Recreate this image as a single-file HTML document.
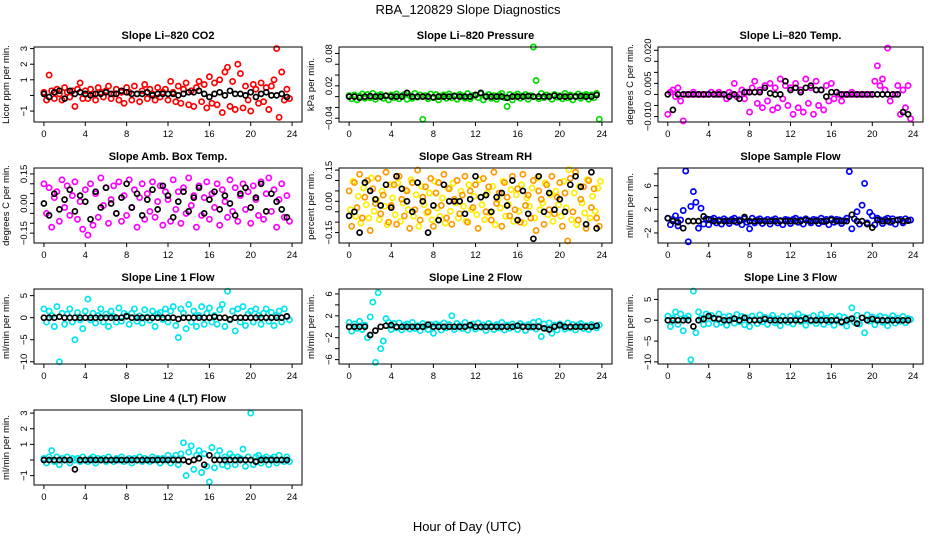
<!DOCTYPE html>
<html><head><meta charset="utf-8"><style>
body{margin:0;background:#fff;}
svg{display:block;font-family:"Liberation Sans",sans-serif;}
</style></head><body>
<svg id="chart" width="936" height="540" viewBox="0 0 936 540" xmlns="http://www.w3.org/2000/svg">
<rect width="936" height="540" fill="#fff"/>
<text x="468" y="14" text-anchor="middle" font-size="13">RBA_120829  Slope Diagnostics</text>
<text x="467" y="531" text-anchor="middle" font-size="13">Hour of Day (UTC)</text>
</svg>
<script>
const co2C=[0.2,-0.3,1.3,0.3,-0.2,0.4,0.1,-0.3,0.5,0.2,-0.1,0.3,-0.7,0.4,0.8,-0.2,0.3,-0.2,0.4,0.1,-0.3,0.5,0.2,-0.1,0.3,0.6,-0.2,0.1,0.4,-0.3,0.2,-0.5,0.5,0.2,-0.3,0.6,0.1,-0.4,0.3,0.7,-0.2,0.4,0.1,-0.3,0.5,-0.1,0.2,0.4,-0.3,0.9,0.2,-0.4,0.6,-0.5,0.4,0.8,-0.6,0.3,-0.7,0.5,0.9,-0.4,0.7,-0.8,1.2,-0.5,0.8,-0.6,1.0,-1.1,1.5,1.8,-0.7,0.9,-0.9,2.0,1.4,-0.8,0.6,-0.3,-1.0,0.7,0.4,-0.5,0.8,-0.4,0.5,-0.9,0.6,1.0,3.0,-1.4,1.5,-0.3,0.4,-0.2];
const co2K=[0.1,-0.1,0.2,0.3,-0.2,0.3,0.1,0.2,0.1,0,0.1,0.1,0.2,0.1,0.1,0.3,0.2,0.1,0.1,0.1,0.2,0,0.1,0.1,0.1,0.1,0,0.1,0.2,0.2,0.3,0.1,-0.1,0.1,0.2,0,0.3,0.1,0.1,0,0.2,-0.1,0.1,0.2,0,0,0.1,-0.1];
const presC=[0.002,-0.004,0.003,-0.006,0.001,0.005,-0.003,0.004,-0.002,0.006,-0.005,0.002,0.004,-0.003,0.001,-0.006,0.003,-0.002,0.005,-0.004,0.001,0.004,-0.005,0.002,-0.003,0.006,-0.001,0.003,-0.042,0.002,-0.004,0.005,-0.002,0.004,-0.006,0.001,0.003,-0.003,0.005,-0.002,0.002,-0.005,0.004,0.001,-0.003,0.006,-0.004,0.002,0.003,-0.002,0.005,-0.006,0.001,0.004,-0.003,0.002,-0.005,0.003,0.006,-0.002,-0.018,0.004,-0.006,0.002,0.005,-0.003,0.001,0.004,-0.005,0.002,0.092,0.030,-0.004,0.006,-0.002,0.003,0.001,-0.005,0.004,-0.001,0.002,-0.004,0.006,-0.002,0.003,-0.006,0.001,0.005,-0.003,0.002,0.004,-0.005,0.003,-0.002,0.006,-0.042];
const presK=[0,0,-0.002,0,0.001,0,0,0.002,0,0,0,0.007,0,0,0,0,-0.001,0,0,0,0.001,0,0,0,0.003,0.007,0,0,0,0,-0.002,0,0,0,0.001,0,0,0,0,0.002,0,0,0,0,0.001,0,0,0.003];
const tempC=[-0.009,0.001,0.002,-0.001,0.003,-0.003,-0.012,0,0,0,0.001,0,0,0,0,0,0,0.001,0,0,0.001,0,0,-0.002,0.001,0,0.005,-0.001,0,0.002,-0.002,0.001,-0.008,0.003,0.006,-0.004,0.002,-0.006,0.004,-0.003,0.005,-0.007,0.003,-0.006,0.007,-0.002,0.004,-0.005,0.003,-0.009,0.005,-0.006,0.002,-0.008,0.007,-0.004,0.003,-0.009,0.006,-0.005,0.002,-0.007,0.004,-0.003,0.005,-0.002,0.001,0,-0.003,0,0,0,0.001,0,0,0,0,0,0,0,0,0.006,0.013,0.004,0.007,0.002,0.021,-0.003,0,0,0.004,-0.009,0.002,-0.006,0.004,-0.011];
const tempK=[0,-0.007,0,0,0,0,0,0,0,0,0,0,-0.001,0,-0.002,0.001,0.001,0.001,0.001,0.003,0.0005,0,0,0.006,0.002,0.003,0.001,0.003,0.004,0.002,0.002,-0.001,0.001,0.001,0,0,0,0,0,0,0,0,0,0,0,0,-0.008,-0.009];
const ambC=[0.10,-0.05,0.08,-0.12,0.03,0.06,-0.09,0.12,-0.02,0.09,-0.06,0.04,0.11,-0.08,0.01,-0.13,0.07,-0.16,0.10,-0.11,0.05,-0.07,0.13,-0.01,0.08,-0.10,0.02,0.09,-0.05,0.11,-0.09,0.04,-0.06,0.12,-0.02,0.07,-0.12,0.03,0.10,-0.08,0.05,-0.04,0.11,-0.07,0.01,0.09,-0.11,0.06,0.02,-0.09,0.12,-0.03,0.06,-0.10,0.08,-0.05,0.13,-0.01,0.04,-0.12,0.09,-0.06,0.03,0.11,-0.08,0.05,-0.02,0.10,-0.11,0.07,0.01,-0.07,0.12,-0.04,0.08,-0.09,0.04,0.10,-0.03,0.06,-0.10,0.09,0.02,-0.06,0.11,-0.08,0.05,0.13,-0.04,0.07,-0.12,0.02,0.10,-0.07,0.04,-0.09];
const ambK=[0.00,-0.06,0.05,-0.03,0.02,0.07,-0.04,0.04,0.01,-0.08,0.06,-0.02,0.08,0.00,-0.05,0.03,0.10,-0.02,0.05,-0.06,0.02,0.07,-0.03,0.09,0.04,-0.07,0.01,0.06,-0.04,0.03,0.08,-0.05,0.02,0.06,-0.03,0.04,0.00,-0.06,0.05,0.08,-0.02,0.03,0.10,-0.04,0.05,0.01,-0.03,-0.07];
const rhC=[0.05,-0.12,0.09,-0.03,0.13,-0.08,0.02,0.10,-0.14,0.06,-0.01,0.11,-0.06,0.03,0.14,-0.10,-0.02,0.08,-0.11,0.12,0.01,-0.07,0.05,-0.13,0.09,-0.04,0.15,-0.09,0.02,0.07,-0.05,0.11,-0.12,0.04,0.09,-0.02,0.13,-0.08,0.06,-0.11,0.01,0.10,-0.06,0.03,0.12,-0.10,0.05,-0.03,0.08,-0.13,0.02,0.11,-0.05,0.07,-0.09,0.14,-0.01,0.04,-0.12,0.09,0.02,-0.07,0.12,-0.04,0.06,-0.10,0.13,-0.02,0.03,-0.08,0.10,-0.14,0.05,0.01,-0.11,0.08,-0.04,0.12,-0.06,0.02,0.09,-0.12,0.04,-0.19,0.11,-0.05,0.14,-0.09,0.01,0.07,-0.13,0.10,-0.03,0.06,-0.08,-0.12];
const rhK=[-0.07,-0.05,-0.15,0.09,0.05,0.01,-0.02,0.08,-0.03,0.12,0.06,0.00,-0.05,0.09,0.00,-0.15,-0.02,-0.09,0.08,0.00,0.00,0.00,-0.06,0.01,0.12,0.02,0.03,-0.05,0.02,0.04,-0.02,0.10,-0.09,0.05,-0.06,-0.18,0.12,-0.05,0.04,-0.04,0.01,-0.05,0.08,0.12,0.07,-0.11,0.14,-0.13];
const flowC=[0.5,-0.6,0.3,0.9,-0.8,0.2,1.8,8.5,-3.5,2.5,5.0,3.2,-1.2,2.2,-0.5,0.4,-0.6,0.3,0.5,-0.3,0.2,-0.5,0.4,0.1,-0.4,0.3,0.5,-0.2,0.2,-0.6,0.4,-0.2,-1.3,0.5,-0.3,0.2,0.4,-0.4,0.1,0.3,-0.5,0.2,0.4,-0.3,0.1,-0.6,0.3,0.2,-0.4,0.3,0.5,-0.2,0.2,-0.5,0.4,0.1,-0.3,0.3,0.2,-0.4,0.5,-0.1,0.3,-0.6,0.4,-0.2,0.3,0.2,-0.4,0.1,0.5,8.4,-1.3,0.4,1.6,-0.5,2.7,6.4,-0.3,1.5,0.9,-0.6,0.5,0.2,-0.4,0.3,0.5,-0.2,0.4,-0.5,0.2,0.3,-0.3,0.4,0.1,0.2];
const flowK=[0.5,0,-0.2,-1.2,0,0,0,0.8,0.3,0,0,0,0,0,0,0.7,0,0,0,0,0,0,0,0,0,0,0,0.2,0,0,0,0,0.2,0,0,0,1.1,0,0,-0.5,-1.1,0.2,0,0,0,0.2,0,0.1];
const l1C=[2,-1,1.5,0.5,-2,2.5,-10,1,-1.5,0.8,2,-1,-5,1.2,-0.5,-2.5,1.5,4.2,-0.5,1,-1.2,0.5,2,-1,0.8,-2,1.5,0.3,-1,2.2,-0.8,1,0.5,-1.5,1,2,-0.8,0.4,-1.2,1.8,0.2,-0.6,1.5,-2,0.8,1.2,-0.4,2,-1,1.5,2.5,-1.8,-4.5,2,1,-2.5,3,-1,1.5,-2,0.5,2.5,-1.5,1,2.2,-1,0.5,-1.5,1.8,3,-2,6,-0.5,1.5,-3,2,-1,2.5,-1.8,0.8,1.5,-1,2,0.5,-1.5,1,2,-0.8,1.2,-1.8,0.5,1.5,-1,2,0.3,-0.5];
const l1K=[0,0,0,0.2,0,0,0,0,0,0,0,0,0,0,0,0,0.3,0,0,0,0,0,0,0,0,0,-0.3,0,0,0,0,0,0,0.2,0,0,-0.4,0,0,0,0,0,0,0,0,0,0,0.3];
const l2C=[0.8,-0.8,0.5,-0.3,1,-0.5,0.3,-2,1.8,4.5,-6.5,6.2,-4,-2.6,1.5,0.8,-0.5,0.6,-0.2,0.7,-0.6,0.3,0.5,-0.4,0.8,-0.3,0.2,-0.7,0.6,0.1,-0.5,0.4,-1.2,0.5,0.3,-0.6,0.7,-0.2,0.4,2,-0.5,0.6,0.2,-0.3,0.8,-0.6,0.1,0.5,-0.4,0.7,-0.1,0.3,-0.7,0.6,0.2,-0.5,0.4,-0.2,0.8,-0.6,0.3,-0.3,0.5,0.1,-0.5,0.6,0.2,-0.7,0.4,-0.1,0.8,-0.4,1,-1.8,0.5,-0.3,0.7,-1.2,0.3,-0.6,0.5,0.2,-0.4,0.7,-0.2,0.4,-0.6,0.3,0.6,-0.3,0.2,-0.5,0.4,0.1,-0.2,0.3];
const l2K=[0,0,0,0,-1.5,-0.7,0,0.2,0.3,0,0,0,0,0,0,0.4,0,0,0,0,0,0,0,0.3,0,0,0,0,0,0,0,0,0.2,0,0,0,0,-0.3,-0.5,0,0.3,0,0,0,0,0,0,0.2];
const l3C=[1,-1.5,0.5,2,-1,1.5,-2.5,0.5,1,-9.5,7,-3,2,0.5,-1,1.5,-0.8,1.2,0.4,-1,1.5,-0.5,0.8,-1.2,1,0.3,-0.7,1.4,-0.3,0.9,-1.1,0.6,-1.5,1,0.2,-0.8,1.3,-0.4,0.7,-1,0.5,1.2,-0.6,0.3,-1.3,0.9,0.1,-0.5,1,-0.9,0.4,1.5,-0.3,0.8,-1.2,0.6,-0.2,1.1,-0.8,0.3,1.4,-1,0.5,-0.4,0.9,-1.2,0.3,1,-0.6,0.7,-1.4,0.2,3,-0.5,1.2,-0.9,0.6,-3,1.3,-0.2,0.8,-1.1,0.4,1,-0.5,0.7,-1.3,0.3,1.1,-0.7,0.5,-0.2,0.9,-0.6,0.4,0.2];
const l3K=[0,0,0,0,0,-1.5,0,0.3,1,0.5,0.3,0,0,0.4,0,0.6,0,0,0,0.3,0,0,0,0,0,0,0,0.4,0,0,0,0,0,0,-0.4,0,0.4,-0.8,0.6,0,0.3,0,0,0,0,0,0,0];
const l4C=[0.1,-0.2,0.2,0.6,-0.1,0.2,-0.3,0.1,0,0.2,-0.2,0.1,0,0.1,-0.1,0.2,0,-0.1,0.1,0.2,-0.2,0.1,0,0.1,-0.1,0.2,0,-0.1,0.1,0,0.2,-0.1,0,0.1,-0.2,0.1,0,0.2,-0.1,0.1,0,-0.1,0.2,0,0.1,-0.2,0.1,0,0.3,-0.2,0.1,0.3,-0.3,0.4,1.1,-1.0,0.5,0.9,-0.6,0.3,0.6,-0.8,0.4,-0.4,-1.4,0.8,-0.5,0.3,0.6,-0.3,0.2,-0.4,0.4,0.2,-0.3,0.2,0.1,0.7,-0.4,0.2,3.0,-0.3,0.2,0.3,-0.2,0.1,0.2,-0.3,0.1,0.2,-0.2,0.3,0,-0.1,0.2,-0.1];
const l4K=[0,0,0,0,0,0,-0.6,0,0,0,0,0,0,0,0,0,0,0,0,0,0,0,0,0,0,0,0,0,-0.1,0,0.1,-0.3,0.3,0,0,0,0,0,0,0,0,-0.1,0,0,0,0,0,0];
const xTicks=[0,4,8,12,16,20,24];
const yTicks1=[-1,0,1,2,3], yLabs1=["\u22121","","1","2","3"];
const yTicks2=[-0.04,-0.02,0,0.02,0.04,0.06,0.08], yLabs2=["\u22120.04","","","0.02","","","0.08"];
const yTicks3=[-0.01,-0.005,0,0.005,0.01,0.015,0.02], yLabs3=["\u22120.010","","","0.005","","","0.020"];
const yTicks4=[-0.15,-0.1,-0.05,0,0.05,0.1,0.15], yLabs4=["\u22120.15","","","0.00","","","0.15"];
const yTicks5=[-0.15,-0.1,-0.05,0,0.05,0.1,0.15], yLabs5=["\u22120.15","","","0.00","","","0.15"];
const yTicks6=[-2,0,2,4,6,8], yLabs6=["\u22122","","2","","6",""];
const yTicks7=[-10,-5,0,5], yLabs7=["\u221210","\u22125","0","5"];
const yTicks8=[-6,-4,-2,0,2,4,6], yLabs8=["\u22126","","\u22122","","2","","6"];
const yTicks9=[-10,-5,0,5], yLabs9=["\u221210","\u22125","0","5"];
const yTicks10=[-1,0,1,2,3], yLabs10=["\u22121","","1","2","3"];

const NS="http://www.w3.org/2000/svg";
const svg=document.getElementById('chart');
function mk(tag,attrs,parent){const e=document.createElementNS(NS,tag);for(const k in attrs)e.setAttribute(k,attrs[k]);parent.appendChild(e);return e;}
const cols=[[34,302],[339,612],[658,923]];
const rows=[[47,122],[168,243],[289,364],[410,485]];
const panels=[
 {t:"Slope Li\u2013820 CO2",yl:"Licor ppm per min.",r:0,c:0,ymin:-1.7,ymax:3.1,ticks:yTicks1,labs:yLabs1,cv:co2C,kv:co2K,col:"#ff0000"},
 {t:"Slope Li\u2013820 Pressure",yl:"kPa per min.",r:0,c:1,ymin:-0.047,ymax:0.092,ticks:yTicks2,labs:yLabs2,cv:presC,kv:presK,col:"#00dd00"},
 {t:"Slope Li\u2013820 Temp.",yl:"degrees C per min.",r:0,c:2,ymin:-0.0125,ymax:0.0215,ticks:yTicks3,labs:yLabs3,cv:tempC,kv:tempK,col:"#ff00ff"},
 {t:"Slope Amb. Box Temp.",yl:"degrees C per min.",r:1,c:0,ymin:-0.2,ymax:0.18,ticks:yTicks4,labs:yLabs4,cv:ambC,kv:ambK,col:"#ff00ff"},
 {t:"Slope Gas Stream RH",yl:"percent per min.",r:1,c:1,ymin:-0.2,ymax:0.16,ticks:yTicks5,labs:yLabs5,cv:rhC,kv:rhK,col:"#ff9900"},
 {t:"Slope Sample Flow",yl:"ml/min per min.",r:1,c:2,ymin:-3.7,ymax:9,ticks:yTicks6,labs:yLabs6,cv:flowC,kv:flowK,col:"#0000ff"},
 {t:"Slope Line 1 Flow",yl:"ml/min per min.",r:2,c:0,ymin:-10.5,ymax:6.5,ticks:yTicks7,labs:yLabs7,cv:l1C,kv:l1K,col:"#00e5ee"},
 {t:"Slope Line 2 Flow",yl:"ml/min per min.",r:2,c:1,ymin:-6.8,ymax:6.9,ticks:yTicks8,labs:yLabs8,cv:l2C,kv:l2K,col:"#00e5ee"},
 {t:"Slope Line 3 Flow",yl:"ml/min per min.",r:2,c:2,ymin:-10.5,ymax:7.5,ticks:yTicks9,labs:yLabs9,cv:l3C,kv:l3K,col:"#00e5ee"},
 {t:"Slope Line 4 (LT) Flow",yl:"ml/min per min.",r:3,c:0,ymin:-1.6,ymax:3.2,ticks:yTicks10,labs:yLabs10,cv:l4C,kv:l4K,col:"#00e5ee"}
];
panels.forEach((p,pi)=>{
 const [x0,x1]=cols[p.c],[y0,y1]=rows[p.r];
 const g=mk('g',{},svg);
 
 
 const xs=h=>x0+(h+0.96)/25.92*(x1-x0);
 const ys=v=>y1-(v-p.ymin)/(p.ymax-p.ymin)*(y1-y0);
 const ti=mk('text',{x:(x0+x1)/2,y:y0-8,'text-anchor':'middle','font-size':11,'font-weight':'bold'},g);ti.textContent=p.t;
 
 
 const yl=mk('text',{transform:`translate(${x0-25},${(y0+y1)/2}) rotate(-90)`,'text-anchor':'middle','font-size':9.5},g);yl.textContent=p.yl;
 
 
 const pts=mk('g',{fill:'none','stroke-width':1.7},g);
 
 
 if(pi===4){p.cv.forEach((v,i)=>{const c=mk('circle',{cx:xs(i*0.25+0.12).toFixed(1),cy:ys(-v*0.8).toFixed(1),r:2.6,stroke:'#ffee00'},pts);
  
  });}
 p.cv.forEach((v,i)=>{const h=i*0.25;const c=mk('circle',{cx:xs(h).toFixed(1),cy:ys(v).toFixed(1),r:2.6,stroke:p.col},pts);
  
  });
 p.kv.forEach((v,i)=>{const c=mk('circle',{cx:xs(i*0.5).toFixed(1),cy:ys(v).toFixed(1),r:2.5,stroke:'#000'},pts);
  
  });
 const box=mk('rect',{x:x0,y:y0,width:x1-x0,height:y1-y0,fill:'none',stroke:'#000','stroke-width':1},g);
 
 
 xTicks.forEach(h=>{const x=xs(h);mk('line',{x1:x,x2:x,y1:y1,y2:y1+4,stroke:'#000'},g);
  const t=mk('text',{x:x,y:y1+15,'text-anchor':'middle','font-size':9.5},g);t.textContent=h;
  
  });
 p.ticks.forEach((v,i)=>{const y=ys(v);mk('line',{x1:x0-4,x2:x0,y1:y,y2:y,stroke:'#000'},g);
  if(p.labs[i]){const t=mk('text',{transform:`translate(${x0-7},${y}) rotate(-90)`,'text-anchor':'middle','font-size':9.5},g);t.textContent=p.labs[i];
  
  }});
});
</script>
</body></html>
